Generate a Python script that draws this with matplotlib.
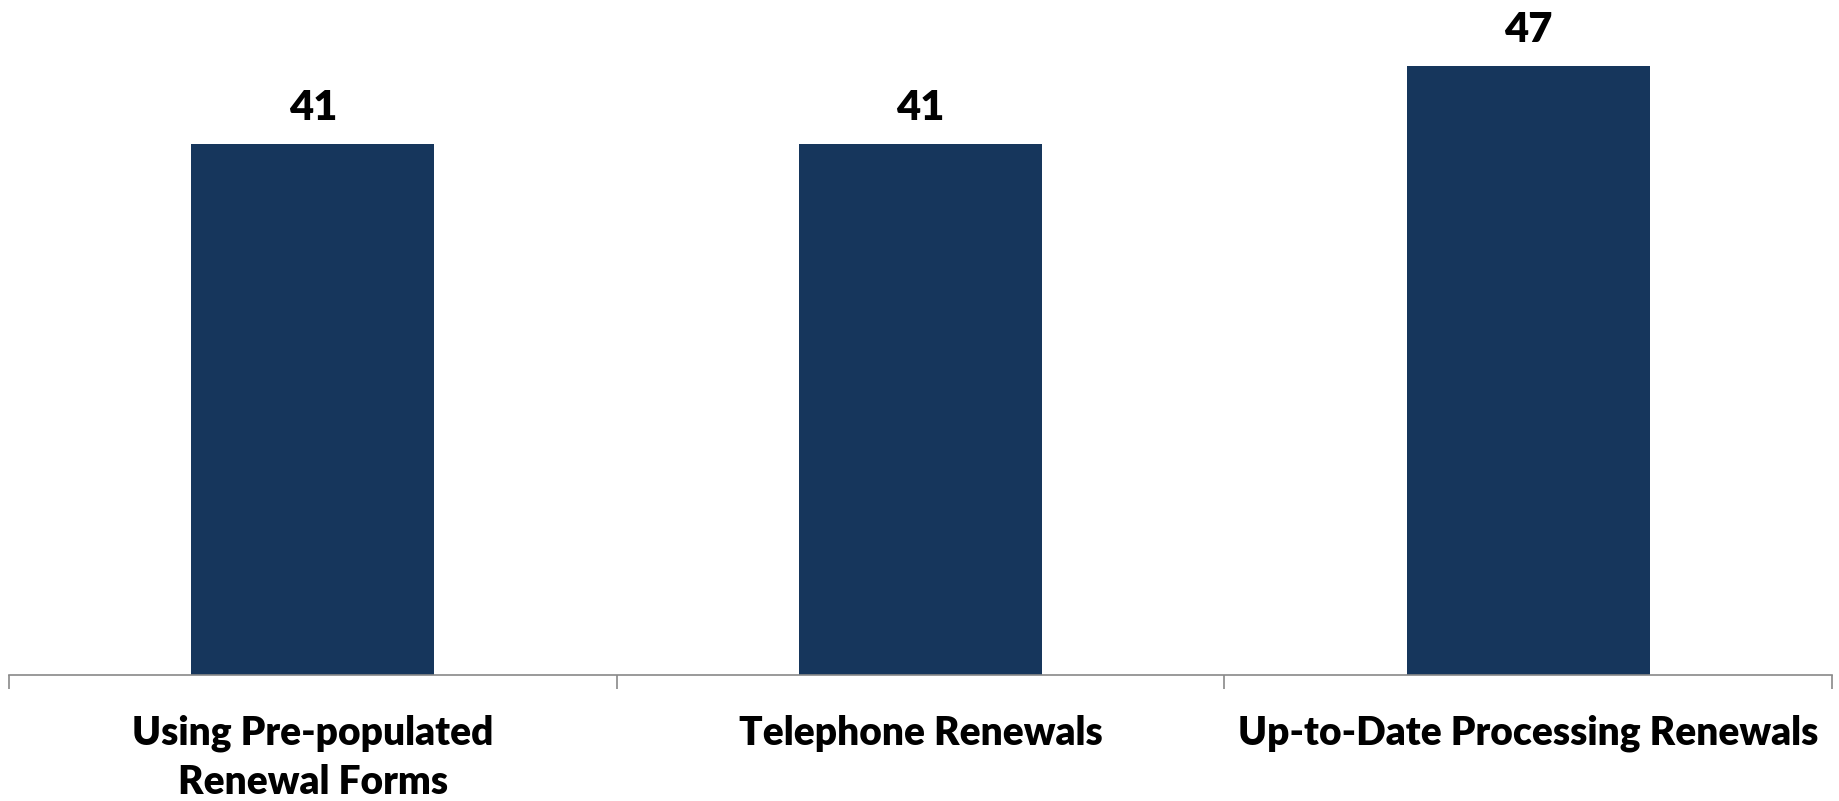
import matplotlib.pyplot as plt

categories = ["Using Pre-populated\nRenewal Forms", "Telephone Renewals", "Up-to-Date Processing Renewals"]
values = [41, 41, 47]

plt.rcParams["font.family"] = ["Lato", "DejaVu Sans"]

fig = plt.figure(figsize=(18.39, 8.01), dpi=100)
ax = fig.add_axes([0.0049, 0.1573, 0.9913, 0.8084])

x = range(len(categories))
ax.bar(x, values, width=0.4, color="#16365C")

for xi, v in zip(x, values):
    ax.text(xi, v + 1.3, str(v), ha="center", va="bottom", fontsize=30, fontweight="heavy")

ax.set_xlim(-0.5, len(categories) - 0.5)
ax.set_ylim(0, 50)

# tick marks at category boundaries, labels at centers
ax.set_xticks([i - 0.5 for i in range(len(categories) + 1)])
ax.set_xticklabels([])
ax.tick_params(axis="x", which="major", length=10, width=1.2, color="#898989")
ax.set_xticks(list(x), minor=True)
ax.set_xticklabels(categories, minor=True, fontsize=28, fontweight="heavy", linespacing=1.4)
ax.tick_params(axis="x", which="minor", length=0, pad=28.5)

ax.set_yticks([])
for side in ["left", "right", "top"]:
    ax.spines[side].set_visible(False)
ax.spines["bottom"].set_color("#898989")
ax.spines["bottom"].set_linewidth(1.2)

plt.savefig("out.png", dpi=100)
